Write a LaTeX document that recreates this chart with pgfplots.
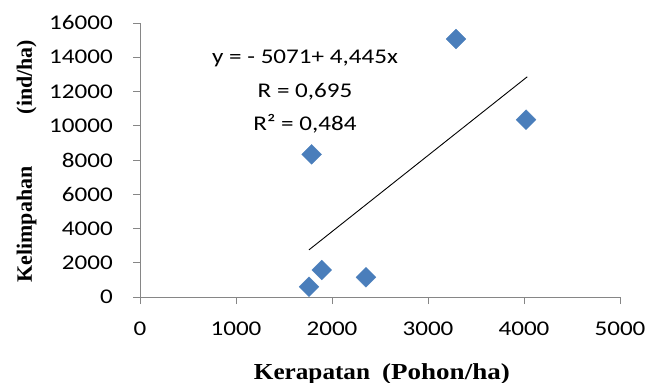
\documentclass[border=0pt]{standalone}
\usepackage{pgfplots}
\pgfplotsset{compat=1.18}
\usepackage{fontspec}
\setmainfont{Carlito}[FakeStretch=1.2]
\newfontfamily\tnr{Liberation Serif}
\newfontfamily\tnrx{Liberation Serif}[FakeStretch=1.1]
\newfontfamily\tnry{Liberation Serif}[FakeStretch=1.18]
\definecolor{ptblue}{HTML}{4A7EBB}
\definecolor{axgray}{HTML}{868686}
\begin{document}
\begin{tikzpicture}
\begin{axis}[
  name=ax,
  scale only axis,
  width=480bp, height=274bp,
  xmin=0, xmax=5000, ymin=0, ymax=16000,
  xtick={0,1000,...,5000}, ytick={0,2000,...,16000},
  yticklabels={},
  axis lines=left,
  axis line style={axgray, -, line width=0.9pt},
  tick style={axgray, line width=0.9pt},
  major tick length=7bp,
  xtick pos=bottom, ytick pos=left,
  tick align=outside,
  xticklabel style={font=\fontsize{21}{24}\selectfont, yshift=-14bp},
  /pgf/number format/assume math mode=true,
  /pgf/number format/1000 sep={},
  scaled ticks=false,
  clip=false,
]
\addplot[only marks, mark=square*, mark size=7bp, mark options={rotate=45, fill=ptblue, draw=ptblue}] coordinates {
  (1760,600) (1893,1577) (1788,8330) (2354,1150) (3292,15065) (4021,10355)
};
\addplot[black, line width=0.9pt, no marks] coordinates {(1760,2752) (4034,12860)};
\node[font=\fontsize{21}{24}\selectfont] at (axis cs:1719,13950) {y = - 5071+ 4,445x};
\node[font=\fontsize{21}{24}\selectfont] at (axis cs:1719,11960) {R = 0,695};
\node[font=\fontsize{21}{24}\selectfont] at (axis cs:1719,10130) {R² = 0,484};
\end{axis}
\foreach \v [count=\i from 0] in {0,2000,4000,6000,8000,10000,12000,14000,16000}
  \node[font=\fontsize{21}{24}\selectfont, anchor=east, inner sep=0pt] at ([xshift=-27bp, yshift=\i*34.25bp]ax.south west) {\v};
\node[font=\tnrx\bfseries\fontsize{23}{26}\selectfont, anchor=base, inner sep=0pt] at ([xshift=172bp, yshift=-82bp]ax.south west) {Kerapatan};
\node[font=\tnry\bfseries\fontsize{23}{26}\selectfont, anchor=base, inner sep=0pt] at ([xshift=306bp, yshift=-82bp]ax.south west) {(Pohon/ha)};
\node[font=\tnr\bfseries\fontsize{22}{25}\selectfont, rotate=90, anchor=base, inner sep=0pt] at ([xshift=-108bp, yshift=72.5bp]ax.south west) {Kelimpahan};
\node[font=\tnr\bfseries\fontsize{22}{25}\selectfont, rotate=90, anchor=base, inner sep=0pt] at ([xshift=-108bp, yshift=220bp]ax.south west) {(ind/ha)};
\pgfresetboundingbox
\path (ax.south west) ++(-140bp,-86bp) rectangle ++(646bp,383bp);
\end{tikzpicture}
\end{document}
